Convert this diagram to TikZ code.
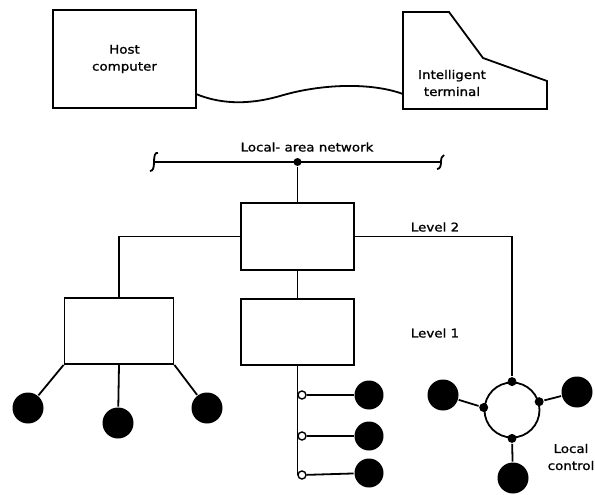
\documentclass[tikz,border=0pt]{standalone}
\usepackage{fontspec}
\setmainfont{DejaVu Sans}[FakeStretch=1.12,FakeBold=1.2]
\begin{document}
\begin{tikzpicture}[x=1pt,y=-1pt,line width=1.8pt,
  box/.style={draw,rectangle,inner sep=0pt},
  lbl/.style={font=\fontsize{12}{17}\selectfont,align=center},
  bigdot/.style={circle,fill,inner sep=0pt,minimum size=31pt},
  joint/.style={circle,fill,inner sep=0pt,minimum size=9pt},
  tap/.style={circle,draw,fill=white,inner sep=0pt,minimum size=8pt,line width=1.4pt}]
\useasboundingbox (0,0) rectangle (595,495);
\node[box,minimum width=143pt,minimum height=98pt,lbl] (host) at (124.5,59) {Host\\computer};
\coordinate (T1) at (403,12);
\coordinate (T2) at (449,12);
\coordinate (T3) at (483,58);
\coordinate (T4) at (547,81);
\coordinate (T5) at (547,109);
\coordinate (T6) at (403,109);
\draw (T1) -- (T2) -- (T3) -- (T4) -- (T5) -- (T6) -- cycle;
\node[lbl] (term) at (452,83) {Intelligent\\terminal};
\coordinate (wA) at (196,94);
\coordinate (wB) at (403,94);
\draw (wA) .. controls (218,103) and (245,106) .. (280,96) .. controls (320,84) and (370,82) .. (wB);
% local-area network
\coordinate (lanL) at (154,162);
\coordinate (lanR) at (441,162);
\node[joint,minimum size=8pt] (lanT) at (297.5,162) {};
\draw (lanL) -- (lanR);
\draw (158,153) .. controls (155,152) and (154,156) .. (lanL) .. controls (154,168) and (153,171) .. (150,171);
\draw (444,155) .. controls (442,156) and (441,158) .. (lanR) .. controls (441,166) and (440,169) .. (437,169);
\node[lbl] (lanlbl) at (307,147) {Local- area network};
% level 2
\node[box,minimum width=113pt,minimum height=67pt] (lv2) at (297.5,236.5) {};
\node[lbl] (lv2lbl) at (435,227) {Level 2};
\draw (lanT) -- (lv2.north);
\coordinate (b2L) at (119,236.5);
\coordinate (b2R) at (512,236.5);
% level 1
\node[box,minimum width=109pt,minimum height=66pt] (l1a) at (119,331) {};
\node[box,minimum width=113pt,minimum height=66pt] (l1b) at (297.5,332) {};
\node[lbl] (lv1lbl) at (435,333) {Level 1};
\draw (lv2.west) -- (b2L) -- (l1a.north);
\draw (lv2.south) -- (l1b.north);
\node[bigdot] (a1) at (28,408) {};
\node[bigdot] (a2) at (118,423) {};
\node[bigdot] (a3) at (207,408) {};
\draw (l1a.south west) -- (a1);
\draw (l1a.south) -- (a2);
\draw (l1a.south east) -- (a3);
\coordinate (busEnd) at (297.5,475);
\draw (l1b.south) -- (busEnd);
\node[tap] (t1) at (302,395) {};
\node[tap] (t2) at (302,436) {};
\node[tap] (t3) at (302,475) {};
\node[bigdot,minimum size=29pt] (e1) at (369,395) {};
\node[bigdot,minimum size=29pt] (e2) at (369,436) {};
\node[bigdot,minimum size=29pt] (e3) at (369,473) {};
\draw (t1) -- (e1);
\draw (t2) -- (e2);
\draw (t3) -- (e3);
% local control ring
\node[circle,draw,inner sep=0pt,minimum size=55pt] (ring) at (512,410) {};
\node[joint] (jT) at (ring.north) {};
\node[joint] (jB) at (ring.south) {};
\node[joint] (jL) at (ring.175) {};
\node[joint] (jR) at (ring.17) {};
\draw (lv2.east) -- (b2R) -- (jT);
\node[bigdot] (cL) at (443,395) {};
\node[bigdot] (cR) at (577,392) {};
\node[bigdot] (cB) at (513,478) {};
\draw (jL) -- (cL);
\draw (jR) -- (cR);
\draw (jB) -- (cB);
\node[lbl] (loclbl) at (571,457) {Local\\control};
\end{tikzpicture}
\end{document}
